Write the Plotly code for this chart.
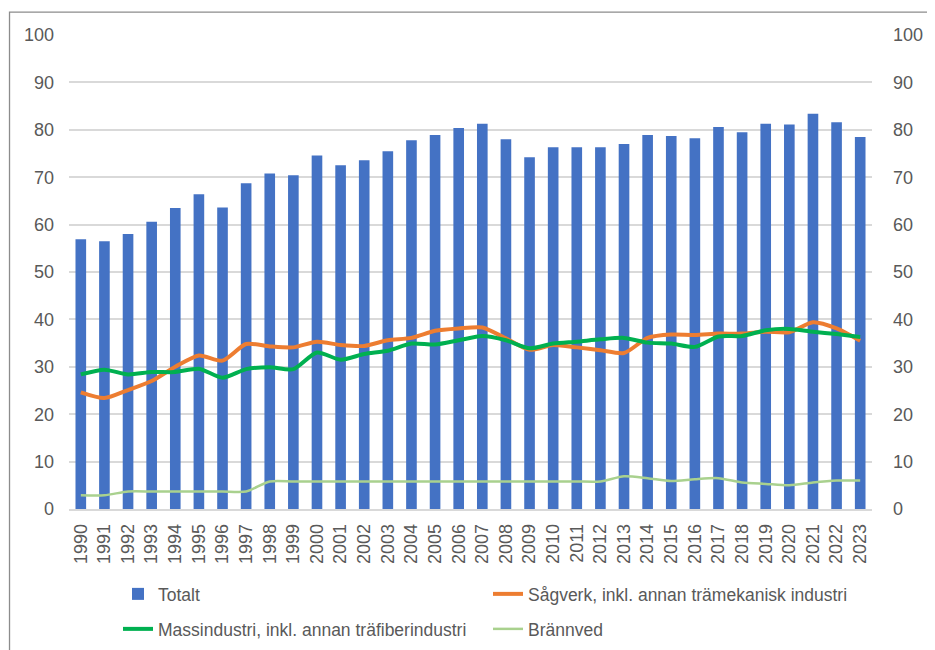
import plotly.graph_objects as go

years = [str(y) for y in range(1990, 2024)]

totalt = [56.9, 56.5, 58.0, 60.6, 63.5, 66.4, 63.6, 68.7, 70.8, 70.4,
          74.6, 72.5, 73.6, 75.5, 77.8, 78.9, 80.4, 81.3, 78.0, 74.2,
          76.3, 76.3, 76.3, 77.0, 78.9, 78.7, 78.2, 80.6, 79.5, 81.3,
          81.1, 83.4, 81.6, 78.5]

sagverk = [24.6, 23.4, 25.1, 27.0, 30.0, 32.4, 31.3, 34.8, 34.3, 34.1,
           35.3, 34.6, 34.4, 35.6, 36.1, 37.6, 38.1, 38.3, 36.0, 33.6,
           34.6, 34.1, 33.5, 32.9, 36.1, 36.8, 36.7, 37.0, 37.0, 37.4,
           37.3, 39.4, 38.1, 35.5]

massindustri = [28.4, 29.4, 28.4, 28.9, 28.9, 29.6, 27.7, 29.5, 29.9, 29.5,
                33.0, 31.5, 32.7, 33.4, 34.9, 34.7, 35.6, 36.5, 35.6, 33.9,
                34.9, 35.3, 35.8, 36.1, 35.1, 34.9, 34.2, 36.4, 36.5, 37.7,
                38.0, 37.4, 36.9, 36.3]

brannved = [2.9, 2.9, 3.7, 3.7, 3.7, 3.7, 3.7, 3.7, 5.8, 5.8,
            5.8, 5.8, 5.8, 5.8, 5.8, 5.8, 5.8, 5.8, 5.8, 5.8,
            5.8, 5.8, 5.8, 6.9, 6.5, 5.9, 6.3, 6.5, 5.6, 5.3,
            5.0, 5.6, 6.0, 6.0]

y_ticks = [0, 10, 20, 30, 40, 50, 60, 70, 80, 90, 100]

FONT = "Liberation Sans, Arial, sans-serif"
GRAY = "#595959"

W, H = 927, 642
L, R, T, B = 61, 52, 27, 138
PW, PH = W - L - R, H - T - B

fig = go.Figure()
fig.add_trace(go.Bar(x=years, y=totalt, name="Totalt", legend="legend",
                     marker=dict(color="#4472C4", line=dict(width=0))))
fig.add_trace(go.Scatter(x=years, y=sagverk, name="Sågverk, inkl. annan trämekanisk industri",
                         mode="lines", yaxis="y2", legend="legend",
                         line=dict(color="#ED7D31", width=4, shape="spline", smoothing=0.7)))
fig.add_trace(go.Scatter(x=years, y=massindustri, name="Massindustri, inkl. annan träfiberindustri",
                         mode="lines", yaxis="y2", legend="legend2",
                         line=dict(color="#00B050", width=4, shape="spline", smoothing=0.7)))
fig.add_trace(go.Scatter(x=years, y=brannved, name="Brännved",
                         mode="lines", yaxis="y2", legend="legend2",
                         line=dict(color="#A9D18E", width=2.5, shape="spline", smoothing=0.7)))

axis_common = dict(range=[0, 100], tickvals=y_ticks, showline=False, zeroline=False,
                   tickfont=dict(family=FONT, size=18, color=GRAY), ticks="")

legend_common = dict(orientation="h", xref="container", yref="container",
                     x=110 / W, xanchor="left", yanchor="top",
                     entrywidthmode="pixels", entrywidth=325,
                     font=dict(family=FONT, size=17.5, color=GRAY),
                     traceorder="normal", itemwidth=30, bgcolor="rgba(0,0,0,0)")

fig.update_layout(
    width=W, height=H,
    margin=dict(l=L, r=R, t=T, b=B),
    paper_bgcolor="white", plot_bgcolor="white",
    bargap=0.55,
    font=dict(family=FONT, size=17, color=GRAY),
    xaxis=dict(type="category", tickangle=-90, showgrid=False, showline=True,
               linecolor="#D9D9D9", linewidth=1.5, ticks="", ticklabelstandoff=6,
               tickfont=dict(family=FONT, size=18, color=GRAY)),
    yaxis=dict(showgrid=True, gridcolor="#D9D9D9", gridwidth=1.5,
               ticklabelstandoff=14, **axis_common),
    yaxis2=dict(overlaying="y", side="right", showgrid=False,
                ticklabelstandoff=20, **axis_common),
    legend=dict(y=1 - 568 / H, **legend_common),
    legend2=dict(y=1 - 603 / H, **legend_common),
    shapes=[dict(type="rect", xref="paper", yref="paper",
                 x0=(0.7 - L) / PW, x1=(W + 10 - L) / PW,
                 y0=(H - B - (H + 10)) / PH, y1=(H - B - 4) / PH,
                 line=dict(color="#8C8C8C", width=1.3), layer="below")],
)

fig.write_html("out.html")
